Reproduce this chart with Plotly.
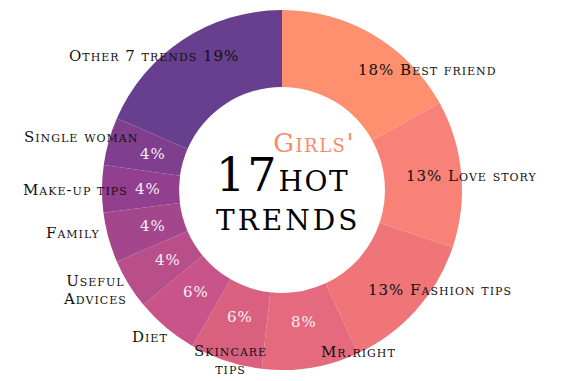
import math
import plotly.graph_objects as go

# ---- data ----
categories = ["Best friend", "Love story", "Fashion tips", "Mr.right", "Skincare tips",
              "Diet", "Useful Advices", "Family", "Make-up tips", "Single woman", "Other 7 trends"]
values = [17, 13.2, 12.9, 8.75, 6.5, 5.7, 4.5, 4.5, 4.25, 4.3, 18.5]
pct_labels = ["18%", "13%", "13%", "8%", "6%", "6%", "4%", "4%", "4%", "4%", "19%"]
name_texts = ["Best friend", "Love story", "Fashion tips", "Mr.right", "Skincare<br>tips",
              "Diet", "Useful<br>Advices", "Family", "Make-up tips", "Single woman", "Other 7 trends"]
title_lines = ["Girls'", "17", "hot", "trends"]

# ---- style ----
colors = ["#FE8F6F", "#F98278", "#EF7579", "#E56A7E", "#DA6080", "#C85489",
          "#B84F8A", "#A4468C", "#913F8E", "#7F3F8E", "#673F8E"]
W, H = 561, 381
CX, CY, R_OUT, R_IN = 282, 190, 180, 103
R_TXT = 134
FONT = "DejaVu Serif"
FS = 15
modes = ["pn", "pn", "pn", "split", "split", "split", "split", "split", "split", "split", "np"]
offsets = [(6, -5), (-11, -2), (-16, 11), (55, 30), (-10, 43), (-46, 45),
           (-73, 30), (-51, 7), (-18, 1), (-13, -17), (33, -22)]
name_anchor = [None, None, None, "center", "center", "center", "center", "right", "right", "right", None]


def spaced(t, ls=1.0, size=FS):
    parts = t.split("<br>")
    return "<br>".join('<span style="letter-spacing:%gpx;font-size:%gpx">%s</span>' % (ls, size, p)
                       for p in parts)


fig = go.Figure(go.Pie(
    labels=categories, values=values, sort=False, direction="clockwise", rotation=0,
    hole=R_IN / R_OUT, marker=dict(colors=colors, line=dict(width=0)),
    textinfo="none", hoverinfo="label+percent", showlegend=False,
    domain=dict(x=[(CX - R_OUT) / W, (CX + R_OUT) / W],
                y=[1 - (CY + R_OUT) / H, 1 - (CY - R_OUT) / H]),
))


def px2paper(x, y):
    return x / W, 1 - y / H


total = sum(values)
cum = 0.0
ann = []
for i, v in enumerate(values):
    mid = (cum + v / 2) / total * 2 * math.pi
    cum += v
    cx = CX + R_TXT * math.sin(mid)
    cy = CY - R_TXT * math.cos(mid)
    dx, dy = offsets[i]
    black = dict(family=FONT, size=FS, color="#111111", variant="small-caps")
    white = dict(family=FONT, size=FS, color="#F7F0F5", variant="small-caps")
    if modes[i] == "pn":
        x, y = px2paper(cx + dx, cy + dy)
        ann.append(dict(x=x, y=y, xref="paper", yref="paper",
                        text=spaced(pct_labels[i] + " " + name_texts[i]),
                        showarrow=False, xanchor="left", yanchor="middle", font=black))
    elif modes[i] == "np":
        x, y = px2paper(cx + dx, cy + dy)
        ann.append(dict(x=x, y=y, xref="paper", yref="paper",
                        text=spaced(name_texts[i] + " " + pct_labels[i]),
                        showarrow=False, xanchor="right", yanchor="middle", font=black))
    else:
        x, y = px2paper(cx, cy)
        ann.append(dict(x=x, y=y, xref="paper", yref="paper", text=spaced(pct_labels[i]),
                        showarrow=False, xanchor="center", yanchor="middle", font=white))
        x, y = px2paper(cx + dx, cy + dy)
        multi = "<br>" in name_texts[i]
        f = dict(black, size=13.5) if multi else black
        ann.append(dict(x=x, y=y, xref="paper", yref="paper", text=spaced(name_texts[i]),
                        showarrow=False, xanchor=name_anchor[i], yanchor="middle", align="center",
                        font=f))

# centre title: one annotation, three lines
girls, num, hot, trends = title_lines
title_html = (
    '<span style="font-size:30px">&nbsp;&nbsp;&nbsp;&nbsp;&nbsp;&nbsp;</span>'
    '<span style="font-size:26px;letter-spacing:1.5px;color:#FA8A6C">%s</span><br>'
    '<span style="font-size:46px;letter-spacing:2px">%s</span>'
    '<span style="font-size:40px;letter-spacing:1.5px">%s</span><br>'
    '<span style="font-size:40px;letter-spacing:3px">%s</span>'
) % (girls, num, hot, trends)
tx, ty = px2paper(214, 181)
ann.append(dict(x=tx, y=ty, xref="paper", yref="paper", text=title_html, showarrow=False,
                xanchor="left", yanchor="middle", align="left",
                font=dict(family=FONT, size=30, color="#000000", variant="small-caps")))

fig.update_layout(width=W, height=H, margin=dict(l=0, r=0, t=0, b=0),
                  paper_bgcolor="white", plot_bgcolor="white", annotations=ann)
fig.write_html("out.html", config={"displayModeBar": False},
               post_script="document.body.style.margin='0';document.body.style.overflow='hidden';")
